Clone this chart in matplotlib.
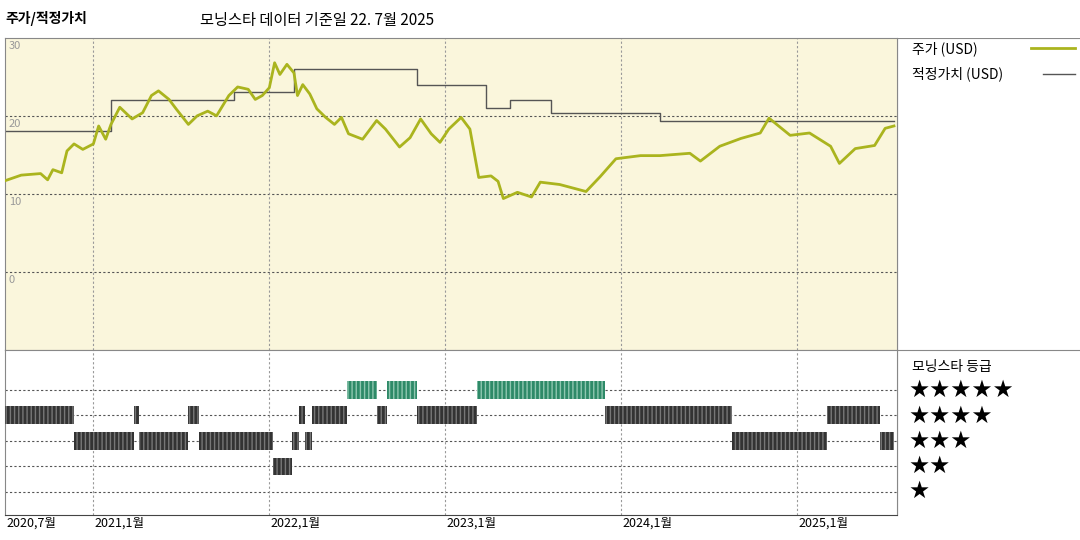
import matplotlib
matplotlib.use("Agg")
import matplotlib.pyplot as plt

plt.rcParams["font.family"] = ["Noto Sans CJK KR", "DejaVu Sans"]

# price (USD), decimal year
price_t = [2020.50, 2020.59, 2020.70, 2020.74, 2020.77, 2020.82, 2020.85, 2020.89, 2020.94, 2021.00,
           2021.03, 2021.07, 2021.10, 2021.15, 2021.22, 2021.28, 2021.33, 2021.37, 2021.43, 2021.47,
           2021.54, 2021.59, 2021.65, 2021.70, 2021.77, 2021.82, 2021.88, 2021.92, 2021.96, 2022.00,
           2022.03, 2022.06, 2022.10, 2022.14, 2022.16, 2022.19, 2022.23, 2022.27, 2022.32, 2022.37,
           2022.41, 2022.45, 2022.53, 2022.61, 2022.66, 2022.74, 2022.80, 2022.86, 2022.92, 2022.97,
           2023.02, 2023.09, 2023.14, 2023.19, 2023.26, 2023.30, 2023.33, 2023.41, 2023.49, 2023.54,
           2023.65, 2023.80, 2023.88, 2023.97, 2024.11, 2024.22, 2024.39, 2024.45, 2024.56, 2024.68,
           2024.79, 2024.84, 2024.96, 2025.07, 2025.19, 2025.24, 2025.33, 2025.44, 2025.50, 2025.55]
price_v = [11.7, 12.4, 12.6, 11.8, 13.1, 12.7, 15.5, 16.4, 15.7, 16.4,
           18.7, 17.0, 18.9, 21.1, 19.6, 20.4, 22.6, 23.2, 22.1, 20.9,
           18.9, 20.0, 20.6, 20.0, 22.6, 23.7, 23.4, 22.1, 22.6, 23.6,
           26.8, 25.3, 26.6, 25.5, 22.6, 24.0, 22.8, 20.9, 19.8, 18.9,
           19.8, 17.7, 17.0, 19.4, 18.3, 16.0, 17.2, 19.6, 17.7, 16.6,
           18.3, 19.8, 18.3, 12.1, 12.3, 11.6, 9.4, 10.2, 9.6, 11.5,
           11.2, 10.3, 12.2, 14.5, 14.9, 14.9, 15.2, 14.2, 16.1, 17.1,
           17.8, 19.7, 17.5, 17.8, 16.1, 13.9, 15.8, 16.2, 18.4, 18.7]

# fair value steps (start time, value)
fv_t = [2020.50, 2021.10, 2021.80, 2022.14, 2022.84, 2023.23, 2023.37, 2023.60, 2024.22, 2025.55]
fv_v = [18.0, 22.0, 23.1, 26.0, 24.0, 21.0, 22.0, 20.3, 19.4, 19.4]

# star rating periods: (stars, start, end)
ratings = [
    (4, 2020.50, 2020.89), (3, 2020.89, 2021.23), (4, 2021.23, 2021.26), (3, 2021.26, 2021.54),
    (4, 2021.54, 2021.60), (3, 2021.60, 2022.02), (2, 2022.02, 2022.13), (3, 2022.13, 2022.17),
    (4, 2022.17, 2022.20), (3, 2022.20, 2022.24), (4, 2022.24, 2022.44), (5, 2022.44, 2022.61),
    (4, 2022.61, 2022.67), (5, 2022.67, 2022.84), (4, 2022.84, 2023.18), (5, 2023.18, 2023.91),
    (4, 2023.91, 2024.63), (3, 2024.63, 2025.17), (4, 2025.17, 2025.47), (3, 2025.47, 2025.55),
]

year_ticks = [2020.5, 2021.0, 2022.0, 2023.0, 2024.0, 2025.0]
year_labels = ["2020,7월", "2021,1월", "2022,1월", "2023,1월", "2024,1월", "2025,1월"]

OLIVE = "#aab41e"
XMIN, XMAX = 2020.5, 2025.57

fig = plt.figure(figsize=(10.8, 5.4), dpi=100)
ax = fig.add_axes([0.005, 0.352, 0.826, 0.578])
ax2 = fig.add_axes([0.005, 0.046, 0.826, 0.306])
lg = fig.add_axes([0.831, 0.046, 0.169, 0.884])

ax.set_facecolor("#faf6dc")
ax.plot(price_t, price_v, color=OLIVE, lw=2.0, zorder=3)
ax.step(fv_t, fv_v, where="post", color="#555555", lw=1.0, zorder=2)
ax.set_xlim(XMIN, XMAX)
ax.set_ylim(-10, 30)
for v in [20, 10, 0]:
    ax.axhline(v, color="#555555", lw=0.8, ls=(0, (2, 2)), zorder=1)
for v in [30, 20, 10, 0]:
    ax.text(2020.52, v - 0.4, str(v), color="#999999", fontsize=8, va="top", ha="left")
for t in year_ticks[1:]:
    ax.axvline(t, color="#999999", lw=0.8, ls=(0, (2, 2)), zorder=1)
ax.set_xticks([])
ax.set_yticks([])

for stars, a, b in ratings:
    col = "#2e8a68" if stars == 5 else "#333333"
    ax2.broken_barh([(a, b - a)], (stars - 0.35, 0.7), facecolors=col,
                    edgecolor="#777777" if stars != 5 else "#8fc7b0",
                    hatch="||||", lw=0, zorder=3)
for s in range(1, 6):
    ax2.axhline(s, color="#555555", lw=0.8, ls=(0, (2, 2)), zorder=1)
for t in year_ticks[1:]:
    ax2.axvline(t, color="#999999", lw=0.8, ls=(0, (2, 2)), zorder=1)
ax2.set_xlim(XMIN, XMAX)
ax2.set_ylim(0.1, 6.55)
ax2.set_xticks([])
ax2.set_yticks([])
for t, lab in zip(year_ticks, year_labels):
    ax2.text(t + 0.005, 0.05, lab, fontsize=9, va="top", ha="left")

for a in (ax, ax2):
    for sp in a.spines.values():
        sp.set_color("#888888")
        sp.set_linewidth(0.8)
ax2.spines["bottom"].set_color("#444444")

lg.set_xlim(0, 1)
lg.set_ylim(0, 1)
lg.axis("off")
lg.plot([0, 0], [0, 1], color="#888888", lw=0.8)
lg.plot([0, 1], [1, 1], color="#888888", lw=0.8)
lg.plot([0, 1], [0.346, 0.346], color="#888888", lw=0.8)
lg.text(0.08, 0.978, "주가 (USD)", fontsize=10, va="center")
lg.plot([0.73, 0.97], [0.978, 0.978], color=OLIVE, lw=2)
lg.text(0.08, 0.925, "적정가치 (USD)", fontsize=10, va="center")
lg.plot([0.80, 0.97], [0.925, 0.925], color="#555555", lw=1)
lg.text(0.08, 0.31, "모닝스타 등급", fontsize=10, va="center")
for i, n in enumerate([5, 4, 3, 2, 1]):
    lg.text(0.06, 0.262 - i * 0.053, "★" * n, fontsize=17, va="center", family="DejaVu Sans")

fig.text(0.005, 0.965, "주가/적정가치", fontsize=10, fontweight="bold", va="center")
fig.text(0.185, 0.962, "모닝스타 데이터 기준일 22. 7월 2025", fontsize=11, va="center")

fig.savefig("out.png")
